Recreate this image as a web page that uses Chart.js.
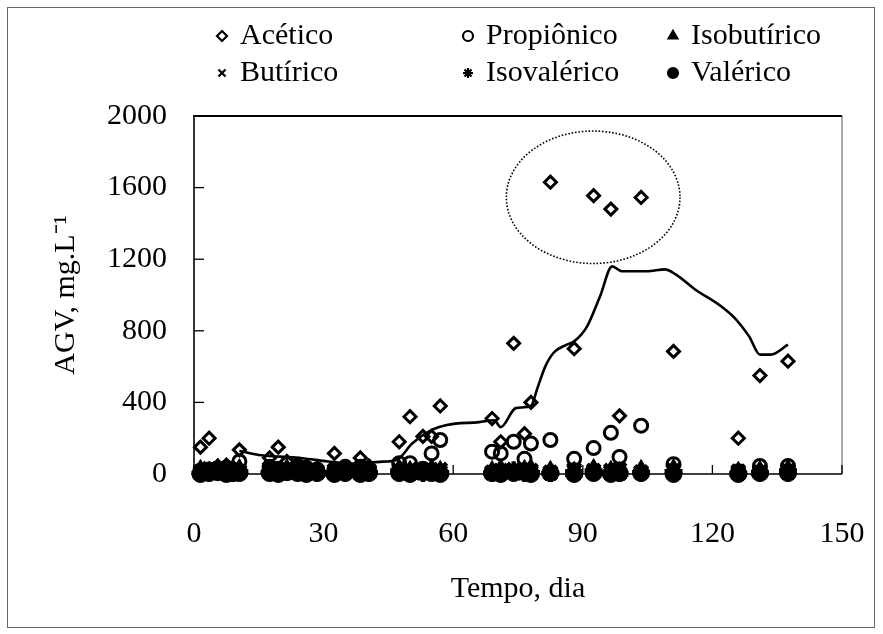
<!DOCTYPE html>
<html>
<head>
<meta charset="utf-8">
<script src="https://cdn.jsdelivr.net/npm/chart.js@4.4.1/dist/chart.umd.min.js"></script>
<style>
html, body { margin: 0; padding: 0; background: #fff; }
#wrap { position: relative; width: 883px; height: 634px; }
#frame { position: absolute; left: 7px; top: 7px; width: 868px; height: 621px; border: 1px solid #666; box-sizing: border-box; pointer-events: none; }
canvas { display: block; }
</style>
</head>
<body>
<div id="wrap">
  <canvas id="agvChart" width="883" height="634"></canvas>
  <div id="frame"></div>
</div>
<script>
// AGV ao longo do tempo
var dias = [1.5, 3.5, 5.5, 7.5, 9, 10.5, 17.5, 19.5, 21.5, 24, 26, 28.5, 32.5, 35, 38.5, 40.5,
    47.5, 50, 53, 55, 57, 69, 71, 74, 76.5, 78, 82.5, 88, 92.5, 96.5, 98.5, 103.5, 111, 126, 131, 137.5];
var acetico = [150, 200, 45, 50, 35, 135, 90, 150, 70, 50, 40, 30, 115, 40, 90, 45,
    180, 320, 210, 210, 380, 310, 180, 730, 225, 400, 1630, 700, 1555, 1480, 325, 1545, 685, 200, 550, 630];
var propionico = [20, 25, 30, 35, 25, 70, 40, 30, 55, 45, 35, 25, 25, 40, 40, 30,
    60, 60, 30, 115, 190, 125, 115, 180, 85, 170, 190, 85, 145, 230, 95, 270, 55, 15, 45, 45];
var isobutirico = [25, 15, 30, 20, 15, 30, 25, 15, 30, 20, 15, 25, 15, 25, 20, 25,
    30, 20, 15, 30, 20, 20, 30, 15, 25, 30, 20, 15, 30, 20, 15, 25, 30, 15, 20, 25];
var butirico = [10, 30, 15, 5, 20, 10, 30, 20, 10, 25, 20, 10, 20, 10, 20, 10,
    10, 25, 20, 10, 25, 10, 20, 25, 10, 20, 10, 25, 10, 20, 25, 10, 20, 15, 10, 10];
var isovalerico = [5, 15, 20, 10, 5, 15, 10, 5, 20, 15, 5, 10, 5, 15, 5, 10,
    20, 10, 5, 15, 10, 5, 15, 20, 5, 10, 5, 15, 20, 10, 5, 10, 15, 5, 10, 20];
var valerico = [0, 5, 10, 0, 5, 5, 5, 0, 10, 5, 0, 5, 0, 5, 0, 5,
    5, 0, 10, 5, 0, 5, 0, 5, 10, 0, 5, 0, 5, 0, 5, 5, 0, 0, 5, 5];

// curva de media movel
var mediaDias = [10.5, 15, 20, 25, 31, 37, 43, 47, 50.5, 55, 58.5, 66, 69.5, 71, 74.5, 78, 79.5, 81.3, 83.2,
    86.3, 88, 91, 94, 96.8, 99, 105, 109, 111.5, 116, 122, 125.5, 128.5, 131, 133.5, 137.5];
var mediaAgv = [130, 106, 97, 88, 70, 58, 68, 80, 170, 246, 274, 290, 300, 262, 368, 381, 480, 600, 676,
    723, 741, 825, 993, 1160, 1133, 1133, 1143, 1115, 1031, 937, 863, 769, 667, 667, 723];

var xTicks = [0, 30, 60, 90, 120, 150];
var yTicks = [0, 400, 800, 1200, 1600, 2000];

var fonte = 'Liberation Serif, Times New Roman, serif';

function pontos(valores) {
    return dias.map(function (d, i) { return { x: d, y: valores[i] }; });
}

function serie(label, valores, estilo, cheio, raio, borda, ordem) {
    return {
        type: 'scatter',
        label: label,
        data: pontos(valores),
        pointStyle: estilo,
        pointRadius: raio,
        pointBorderWidth: borda,
        borderColor: '#000',
        backgroundColor: cheio ? '#000' : 'rgba(0,0,0,0)',
        clip: false,
        order: ordem
    };
}

// legenda em grade 3 x 2
var legendaGrade = {
    id: 'legendaGrade',
    afterDraw: function (chart) {
        var ctx = chart.ctx;
        var colX = [222, 468, 673], rowY = [36, 73];
        var k = 0;
        ctx.save();
        chart.data.datasets.forEach(function (ds) {
            if (ds.type === 'line') return;
            var x = colX[k % 3], y = rowY[Math.floor(k / 3)];
            ctx.fillStyle = ds.backgroundColor;
            ctx.strokeStyle = '#000';
            ctx.lineWidth = 2.2;
            Chart.helpers.drawPoint(ctx, { pointStyle: ds.pointStyle, radius: 5, borderWidth: 2.2, rotation: 0 }, x, y);
            ctx.fillStyle = '#000';
            ctx.font = '30px ' + fonte;
            ctx.textBaseline = 'middle';
            ctx.textAlign = 'left';
            ctx.fillText(ds.label, x + 18, y);
            k++;
        });
        ctx.restore();
    }
};

// elipse pontilhada em torno dos picos
var elipse = {
    id: 'elipse',
    afterDatasetsDraw: function (chart, args, opts) {
        var xs = chart.scales.x, ys = chart.scales.y, ctx = chart.ctx;
        var cx = xs.getPixelForValue(opts.cx), cy = ys.getPixelForValue(opts.cy);
        var rx = xs.getPixelForValue(opts.cx + opts.rx) - cx;
        var ry = cy - ys.getPixelForValue(opts.cy + opts.ry);
        ctx.save();
        ctx.strokeStyle = '#000';
        ctx.lineWidth = 1.6;
        ctx.setLineDash([1.6, 1.8]);
        ctx.beginPath();
        ctx.ellipse(cx, cy, rx, ry, 0, 0, 2 * Math.PI);
        ctx.stroke();
        ctx.restore();
    }
};

// moldura da area do grafico e marcas internas
var moldura = {
    id: 'moldura',
    afterDraw: function (chart) {
        var a = chart.chartArea, ctx = chart.ctx;
        var xs = chart.scales.x, ys = chart.scales.y;
        function linha(x1, y1, x2, y2, w, cor) {
            ctx.strokeStyle = cor || '#000';
            ctx.lineWidth = w;
            ctx.beginPath();
            ctx.moveTo(x1, y1);
            ctx.lineTo(x2, y2);
            ctx.stroke();
        }
        ctx.save();
        linha(a.left - 1, a.top, a.right, a.top, 2.2);
        linha(a.right, a.top, a.right, a.bottom, 1, '#555');
        linha(a.left, a.top, a.left, a.bottom + 1, 1.6);
        linha(a.left, a.bottom, a.right, a.bottom, 1.6);
        xs.ticks.forEach(function (t) {
            var px = xs.getPixelForValue(t.value);
            linha(px, a.bottom, px, a.bottom - 9, 1.3);
        });
        ys.ticks.forEach(function (t) {
            var py = ys.getPixelForValue(t.value);
            linha(a.left, py, a.left + 10, py, 1.3);
        });
        ctx.restore();
    }
};

var ctx = document.getElementById('agvChart').getContext('2d');
var agvChart = new Chart(ctx, {
    data: {
        datasets: [
            serie('Acético', acetico, 'rectRot', false, 6, 3, 5),
            serie('Propiônico', propionico, 'circle', false, 6.5, 3, 4),
            serie('Isobutírico', isobutirico, 'triangle', true, 10, 1, 3),
            serie('Butírico', butirico, 'crossRot', false, 9, 4.5, 2),
            serie('Isovalérico', isovalerico, 'star', false, 9, 4.5, 1),
            serie('Valérico', valerico, 'circle', true, 8.5, 1, 0),
            {
                type: 'line',
                label: 'Média',
                data: mediaDias.map(function (d, i) { return { x: d, y: mediaAgv[i] }; }),
                borderColor: '#000',
                borderWidth: 2.6,
                pointRadius: 0,
                fill: false,
                cubicInterpolationMode: 'monotone',
                order: 6
            }
        ]
    },
    options: {
        responsive: false,
        animation: false,
        layout: { padding: { left: 0, right: 41, top: 116, bottom: 0 } },
        plugins: {
            legend: { display: false },
            tooltip: { enabled: false },
            elipse: { cx: 92.4, cy: 1546, rx: 20.1, ry: 370 }
        },
        scales: {
            x: {
                type: 'linear',
                min: 0,
                max: 150,
                afterBuildTicks: function (s) { s.ticks = xTicks.map(function (v) { return { value: v }; }); },
                afterFit: function (s) { s.height = 160; },
                grid: { display: false, drawTicks: true, tickLength: 42 },
                border: { display: false },
                ticks: { color: '#000', padding: 0, font: { family: fonte, size: 30 }, callback: function (v) { return String(v); } },
                title: {
                    display: true,
                    text: 'Tempo, dia',
                    color: '#000',
                    font: { family: fonte, size: 30 },
                    padding: { top: 0, bottom: 27 }
                }
            },
            y: {
                type: 'linear',
                min: 0,
                max: 2000,
                afterBuildTicks: function (s) { s.ticks = yTicks.map(function (v) { return { value: v }; }); },
                afterFit: function (s) { s.width = 194; },
                grid: { display: false, drawTicks: false },
                border: { display: false },
                ticks: { color: '#000', padding: 27, font: { family: fonte, size: 30 }, callback: function (v) { return String(v); } },
                title: {
                    display: true,
                    text: 'AGV, mg.L⁻¹',
                    color: '#000',
                    font: { family: fonte, size: 30 },
                    padding: { top: 48, bottom: 0 }
                }
            }
        }
    },
    plugins: [legendaGrade, elipse, moldura]
});
</script>
</body>
</html>
